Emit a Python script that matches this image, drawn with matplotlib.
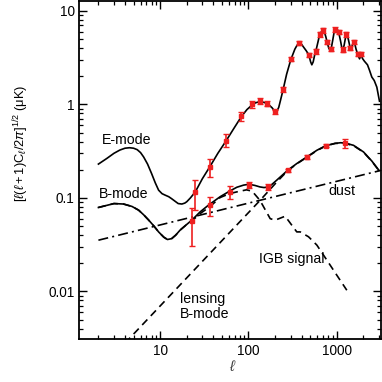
import matplotlib
matplotlib.use("Agg")
import matplotlib.pyplot as plt
import numpy as np

plt.rcParams['font.family'] = ['Liberation Sans', 'DejaVu Sans']
plt.rcParams['mathtext.fontset'] = 'custom'
plt.rcParams['mathtext.rm'] = 'Liberation Sans'
plt.rcParams['mathtext.it'] = 'Liberation Sans:italic'

# E-mode theory curve
e_ell = [2.0, 2.5, 3.0, 3.5, 4.0, 4.5, 5.0, 5.5, 6.0, 6.5, 7.2, 8.0, 8.8, 9.6, 10.5, 11.4,
         12.5, 13.5, 15, 16, 17.6, 19, 20, 22, 25, 30, 37, 45, 56, 68, 83, 96,
         109, 120, 134, 150, 164, 185, 195, 202, 210, 220, 230, 247, 270, 301, 335, 355,
         375, 395, 420, 450, 482, 505, 521, 540, 560, 578, 610, 637, 665, 700, 725, 750,
         778, 810, 835, 848, 870, 900, 942, 970, 995, 1045, 1100, 1140, 1170, 1210, 1250,
         1286, 1320, 1360, 1415, 1450, 1500, 1557, 1600, 1650, 1728, 1808, 1885, 1950,
         2050, 2150, 2223, 2350, 2489, 2650, 2836, 3040]
e_val = [0.23, 0.265, 0.30, 0.325, 0.34, 0.344, 0.34, 0.328, 0.305, 0.274, 0.23, 0.182,
         0.145, 0.121, 0.111, 0.107, 0.103, 0.098, 0.091, 0.087, 0.086, 0.088, 0.091, 0.1,
         0.116, 0.16, 0.22, 0.3, 0.41, 0.55, 0.74, 0.88,
         0.98, 1.04, 1.07, 1.05, 1.02, 0.92, 0.86, 0.84, 0.85, 0.93, 1.1, 1.45, 2.1, 3.0,
         3.9, 4.3, 4.5, 4.45, 4.1, 3.75, 3.39, 2.85, 2.65, 2.85, 3.35, 3.7, 4.6, 5.5, 5.95,
         6.15, 5.9, 5.3, 4.6, 4.0, 3.8, 3.85, 4.1, 4.9, 6.3, 6.55, 6.5, 6.0, 4.8, 4.0, 3.85,
         4.3, 5.1, 5.5, 5.4, 4.8, 4.03, 3.95, 4.3, 4.6, 4.4, 3.9, 3.4, 3.07, 3.4, 3.1,
         2.9, 2.75, 2.65, 2.3, 1.96, 1.8, 1.53, 1.08]

# B-mode total curve
b_ell = [2.0, 3.0, 3.85, 4.8, 5.7, 6.5, 7.4, 8.5, 9.6, 11.0, 12.1, 13.5, 15, 16.8, 19.5,
         22.8, 28.4, 35.2, 47.8, 61, 73.8, 88, 101, 118, 135, 150, 168, 185, 209, 277, 352,
         457, 594, 751, 957, 1100, 1241, 1545, 2005, 2489, 2962]
b_val = [0.079, 0.087, 0.086, 0.081, 0.074, 0.066, 0.058, 0.05, 0.0433, 0.038, 0.0359,
         0.0367, 0.040, 0.0452, 0.051, 0.0578, 0.071, 0.0836, 0.103, 0.118, 0.13, 0.137,
         0.14, 0.136, 0.131, 0.129, 0.131, 0.14, 0.155, 0.197, 0.233, 0.274, 0.323, 0.362,
         0.383, 0.389, 0.386, 0.365, 0.31, 0.248, 0.2]

# IGB signal (dashed)
igb_ell = [2.0, 3.0, 3.85, 4.8, 5.7, 6.5, 7.4, 8.5, 9.6, 11.0, 12.1, 13.5, 15, 16.8, 19.5,
           22.8, 28.4, 36.8, 47.8, 61, 73.8, 95, 110, 135, 176, 200, 260, 352, 385, 478,
           594, 771, 1000, 1297]
igb_val = [0.079, 0.087, 0.086, 0.081, 0.074, 0.066, 0.058, 0.05, 0.0433, 0.038, 0.0359,
           0.0367, 0.040, 0.0452, 0.051, 0.0565, 0.068, 0.081, 0.101, 0.111, 0.116, 0.122,
           0.118, 0.094, 0.060, 0.0578, 0.0637, 0.0433, 0.0433, 0.0384, 0.0313, 0.0216,
           0.0149, 0.0103]

# lensing B-mode (dashed)
lens_ell = [4.0, 135, 209, 277, 352, 457, 594, 751, 957, 1241, 1545, 2005, 2489, 2962]
lens_val = [0.0028, 0.094, 0.148, 0.195, 0.231, 0.272, 0.32, 0.36, 0.383, 0.383, 0.362,
            0.308, 0.246, 0.199]

# dust (dash-dot)
dust_ell = [2.0, 3100]
dust_val = [0.0353, 0.196]

# E-mode data points
ep_ell = [24.9, 36.8, 55.8, 82.6, 109, 134, 164, 202, 247, 301, 375, 482, 578, 637, 700,
          778, 848, 942, 1045, 1160, 1286, 1415, 1557, 1728, 1885]
ep_val = [0.116, 0.215, 0.41, 0.745, 1.0, 1.09, 1.02, 0.84, 1.45, 3.07, 4.55, 3.39, 3.71,
          5.59, 6.17, 4.63, 3.9, 6.32, 6.0, 3.86, 5.59, 4.03, 4.67, 3.47, 3.47]
ep_lo = [0.074, 0.168, 0.35, 0.664, 0.92, 1.0, 0.95, 0.795, 1.35, 2.9, 4.3, 3.2, 3.5, 5.3,
         5.85, 4.4, 3.7, 6.0, 5.7, 3.67, 5.3, 3.83, 4.44, 3.3, 3.3]
ep_hi = [0.155, 0.263, 0.486, 0.83, 1.09, 1.18, 1.09, 0.87, 1.53, 3.25, 4.8, 3.58, 3.92,
         5.9, 6.5, 4.88, 4.1, 6.65, 6.3, 4.06, 5.9, 4.24, 4.92, 3.65, 3.65]

# B-mode data points
bp_ell = [22.8, 36.8, 61, 101, 168, 277, 457, 751, 1241]
bp_val = [0.0568, 0.0836, 0.116, 0.139, 0.131, 0.197, 0.274, 0.362, 0.386]
bp_lo = [0.0307, 0.0637, 0.098, 0.129, 0.121, 0.188, 0.262, 0.346, 0.344]
bp_hi = [0.0789, 0.1026, 0.133, 0.148, 0.14, 0.206, 0.287, 0.378, 0.43]

fig = plt.figure(figsize=(3.82, 3.82), dpi=100)
ax = fig.add_axes([0.208, 0.1126, 0.789, 0.886])
ax.set_xscale('log')
ax.set_yscale('log')

lw = 1.2
ax.plot(e_ell, e_val, color='black', lw=lw)
ax.plot(b_ell, b_val, color='black', lw=lw)
ax.plot(igb_ell, igb_val, color='black', lw=lw, ls=(0, (4.5, 3)))
ax.plot(lens_ell, lens_val, color='black', lw=lw, ls=(0, (4.5, 3)))
ax.plot(dust_ell, dust_val, color='black', lw=lw, ls=(0, (6, 2.5, 1.2, 2.5)))

red = '#ee2020'
for xs, ys, lo, hi in [(ep_ell, ep_val, ep_lo, ep_hi), (bp_ell, bp_val, bp_lo, bp_hi)]:
    ys_a = np.array(ys)
    yerr = [ys_a - np.array(lo), np.array(hi) - ys_a]
    ax.errorbar(xs, ys, yerr=yerr, fmt='s', ms=2.8, color=red, ecolor=red,
                elinewidth=1.2, capsize=2.5, capthick=1.0, zorder=5)

ax.set_xlim(1.22, 3150)
ax.set_ylim(0.0031, 12.9)

ax.set_xticks([10, 100, 1000])
ax.set_xticklabels(['10', '100', '1000'])
ax.set_yticks([0.01, 0.1, 1, 10])
ax.set_yticklabels(['0.01', '0.1', '1', '10'])
ax.tick_params(which='both', direction='in', top=True, right=True, labelsize=9.8)
ax.tick_params(which='major', length=6, width=1.0)
ax.tick_params(which='minor', length=3.2, width=0.9)
ax.tick_params(axis='x', pad=3.5)
for s in ax.spines.values():
    s.set_linewidth(1.3)

ax.set_ylabel(r'$[\ell(\ell+1)\mathrm{C}_\ell/2\pi]^{1/2}$ (μK)', fontsize=9.3)
ax.yaxis.set_label_coords(-0.162, 0.578)
ax.set_xlabel(r'$\ell$', fontsize=11, color='#444444')
ax.xaxis.set_label_coords(0.51, -0.06)

fs = 10.2
ax.text(2.19, 0.42, 'E-mode', fontsize=fs, va='center', ha='left')
ax.text(2.0, 0.109, 'B-mode', fontsize=fs, va='center', ha='left')
ax.text(805, 0.119, 'dust', fontsize=fs, va='center', ha='left')
ax.text(130, 0.022, 'IGB signal', fontsize=fs, va='center', ha='left')
ax.text(16.8, 0.0069, 'lensing\nB-mode', fontsize=fs, va='center', ha='left',
        linespacing=1.15)

fig.savefig('out.png', dpi=100)
